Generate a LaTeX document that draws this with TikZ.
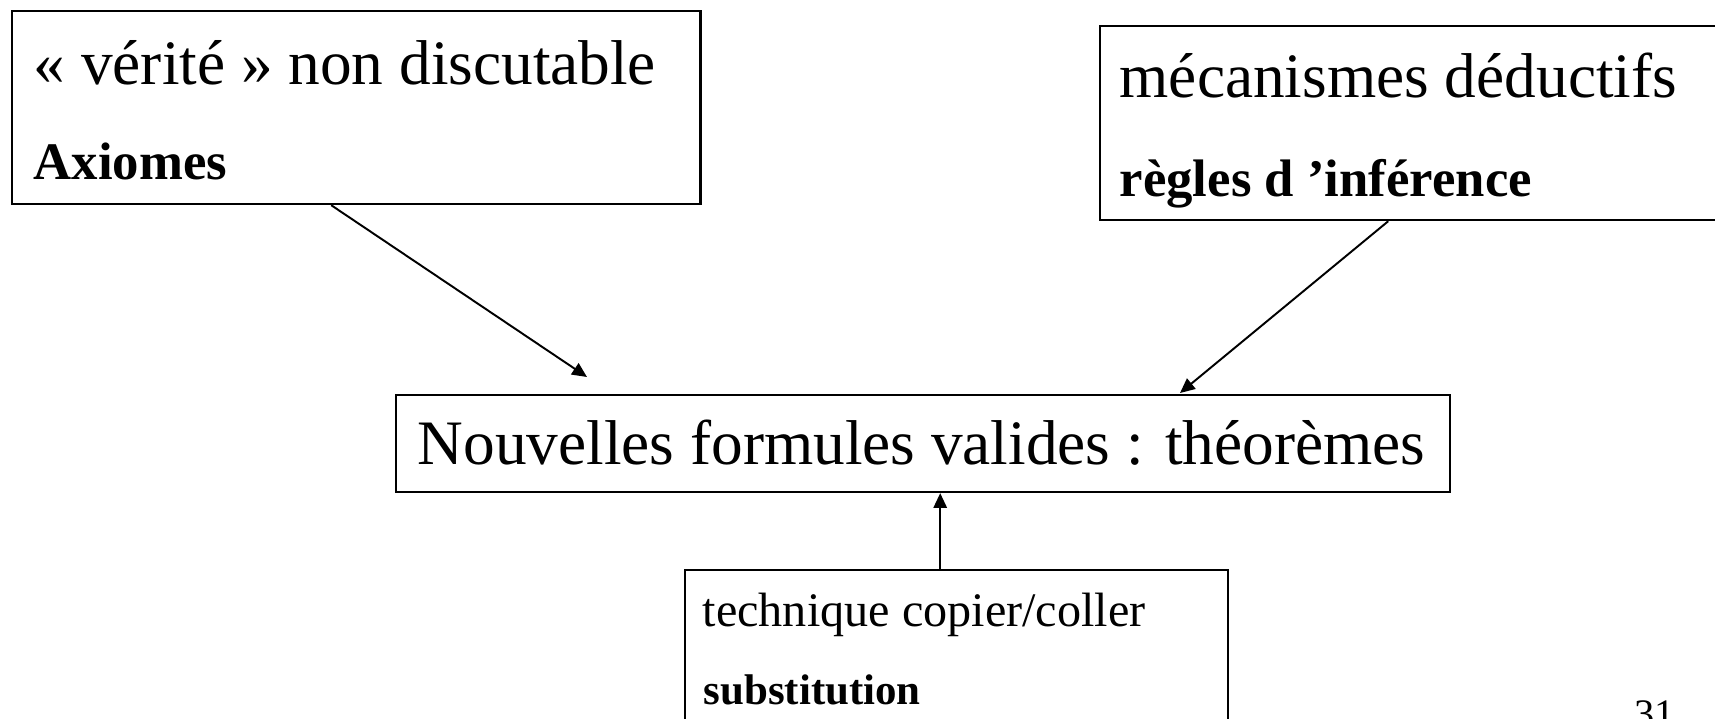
\documentclass[tikz,border=0pt]{standalone}
\usepackage{fontspec}
\setmainfont{Liberation Serif}
\usetikzlibrary{arrows.meta,positioning}

\begin{document}
\begin{tikzpicture}[
  x=0.01cm, y=-0.01cm,
  box/.style={draw, line width=0.6pt, inner sep=0pt, anchor=north west},
  bigtxt/.style={font=\fontsize{18}{21}\selectfont, inner sep=0pt, anchor=base west},
  boldtxt/.style={font=\fontsize{15}{18}\selectfont\bfseries, inner sep=0pt, anchor=base west},
  smalltxt/.style={font=\fontsize{13.7}{16}\selectfont, inner sep=0pt, anchor=base west},
  arr/.style={-{Triangle[length=4.2pt, width=3.8pt]}, line width=0.55pt}
]
\useasboundingbox (0,0) rectangle (1715,719);

% Axiomes
\node[box, minimum width=6.88cm, minimum height=1.93cm] (axbox) at (11,10) {};
\node[bigtxt]  (vertxt) at (33,85)  {« vérité » non discutable};
\node[boldtxt] (axtxt)  at (33,180) {Axiomes};

% regles d'inference
\node[box, minimum width=6.31cm, minimum height=1.94cm] (regbox) at (1099,25) {};
\node[bigtxt]  (mectxt) at (1119,98)  {mécanismes déductifs};
\node[boldtxt] (regtxt) at (1119,197) {règles d ’inférence};

% theoremes
\node[box, minimum width=10.53cm, minimum height=0.97cm] (thmbox) at (395,394) {};
\node[bigtxt, anchor=base] (thmtxt) at (921.5,465) {Nouvelles formules valides : théorèmes};

% substitution
\node[box, minimum width=5.43cm, minimum height=1.61cm] (subbox) at (684,569) {};
\node[smalltxt] (techtxt) at (702,627) {technique copier/coller};
\node[smalltxt, font=\fontsize{12.2}{15}\selectfont\bfseries] (subtxt) at (703,705) {substitution};

\node[smalltxt, font=\fontsize{11.5}{14}\selectfont] (pagenum) at (1634,728) {31};

\coordinate (axtip)  at (587,377);
\coordinate (regtip) at (1180,393);
\draw[arr] ([xshift=-0.25cm]axbox.south) -- (axtip);
\draw[arr] ([xshift=-0.275cm]regbox.south) -- (regtip);
\draw[arr] ([xshift=-0.165cm]subbox.north) -- ([xshift=-0.165cm]subbox.north |- thmbox.south);

\end{tikzpicture}
\end{document}
